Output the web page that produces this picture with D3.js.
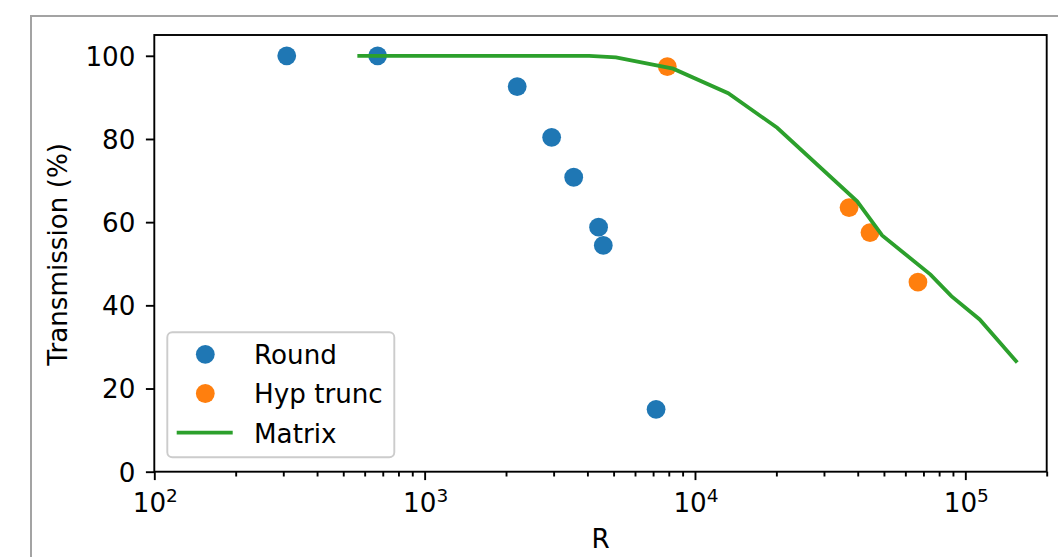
<!DOCTYPE html>
<html>
<head>
<meta charset="utf-8">
<script src="https://cdn.jsdelivr.net/npm/d3@7"></script>
<style>
  html, body { margin: 0; padding: 0; background: #fff; }
  svg { display: block; }
  text { font-family: "DejaVu Sans", sans-serif; fill: #000; }
</style>
</head>
<body>
<svg id="chart" width="1058" height="557"></svg>
<script>
// ---- data ----
const roundR = [309, 670, 2200, 2950, 3560, 4400, 4580, 7180];
const roundT = [100, 100, 92.6, 80.4, 70.8, 58.8, 54.4, 15.0];
const hypR = [7900, 37150, 44400, 66800];
const hypT = [97.4, 63.5, 57.5, 45.6];
const matrixR = [573, 4060, 5100, 8300, 13270, 20140, 39800, 49250, 74350, 88800, 113000, 154000];
const matrixT = [100, 100, 99.6, 96.9, 91.0, 82.7, 65.0, 56.8, 47.4, 42.2, 36.6, 26.6];
const yTicks = [0, 20, 40, 60, 80, 100];
const xMajorExp = [2, 3, 4, 5];
const legendLabels = ["Round", "Hyp trunc", "Matrix"];
const colors = ["#1f77b4", "#ff7f0e", "#2ca02c"];

// ---- layout ----
const svg = d3.select("#chart");
const L = 154.3, R = 1046.7, T = 35, B = 471.7;
const fs = 26.2;

const x = d3.scaleLog().domain([100, 200000]).range([L, R]);
const y = d3.scaleLinear().domain([0, 105]).range([B, T]);

// outer figure frame
svg.append("rect").attr("x", 31).attr("y", 16).attr("width", 1100).attr("height", 600)
  .attr("fill", "none").attr("stroke", "#a3a3a3").attr("stroke-width", 2);

// clip
svg.append("clipPath").attr("id", "clip").append("rect")
  .attr("x", L).attr("y", T).attr("width", R - L).attr("height", B - T);

const g = svg.append("g").attr("clip-path", "url(#clip)");

// Round
g.selectAll("circle.round").data(roundR).enter().append("circle")
  .attr("class", "round")
  .attr("cx", (d) => x(d)).attr("cy", (d, i) => y(roundT[i])).attr("r", 9.4)
  .attr("fill", colors[0]);
// Hyp trunc
g.selectAll("circle.hyp").data(hypR).enter().append("circle")
  .attr("class", "hyp")
  .attr("cx", (d) => x(d)).attr("cy", (d, i) => y(hypT[i])).attr("r", 9.4)
  .attr("fill", colors[1]);
// Matrix
const line = d3.line().x((d) => x(d[0])).y((d) => y(d[1]));
g.append("path").datum(matrixR.map((r, i) => [r, matrixT[i]]))
  .attr("d", line).attr("fill", "none").attr("stroke", colors[2])
  .attr("stroke-width", 3.8).attr("stroke-linejoin", "miter").attr("stroke-linecap", "square");

// axes
const xAxisMajor = d3.axisBottom(x).tickValues(xMajorExp.map((e) => Math.pow(10, e)))
  .tickSize(8.4).tickFormat("");
const minor = [];
for (let e = 2; e <= 5; e++) for (let m = 2; m <= 9; m++) {
  const v = m * Math.pow(10, e);
  if (v <= 200000) minor.push(v);
}
const xAxisMinor = d3.axisBottom(x).tickValues(minor).tickSize(4.8).tickFormat("");

const gxMinor = svg.append("g").attr("transform", `translate(0,${B})`).call(xAxisMinor);
const gx = svg.append("g").attr("transform", `translate(0,${B})`).call(xAxisMajor);
[gx, gxMinor].forEach((a) => {
  a.select(".domain").remove();
  a.selectAll("line").attr("stroke", "#000").attr("stroke-width", 1.9);
});

// x tick labels with superscripts
const xl = svg.append("g");
xMajorExp.forEach((e) => {
  const t = xl.append("text").attr("x", x(Math.pow(10, e)) + 1).attr("y", 511.5)
    .attr("text-anchor", "middle").style("font-size", fs + "px");
  t.append("tspan").text("10");
  t.append("tspan").attr("dy", -9.5).style("font-size", "18.5px").text(String(e));
});

const yAxis = d3.axisLeft(y).tickValues(yTicks).tickSize(8.4).tickPadding(10.5).tickFormat(d3.format("d"));
const gy = svg.append("g").attr("transform", `translate(${L},0)`).call(yAxis);
gy.select(".domain").remove();
gy.selectAll("line").attr("stroke", "#000").attr("stroke-width", 1.9);
gy.selectAll("text").style("font-size", fs + "px").style("font-family", "DejaVu Sans")
  .attr("fill", "#000").attr("dy", "0.36em");

// spines
svg.append("rect").attr("x", L).attr("y", T).attr("width", R - L).attr("height", B - T)
  .attr("fill", "none").attr("stroke", "#000").attr("stroke-width", 1.9);

// axis labels
svg.append("text").attr("x", (L + R) / 2).attr("y", 548).attr("text-anchor", "middle")
  .style("font-size", fs + "px").text("R");
svg.append("text").attr("transform", `translate(67,${(T + B) / 2 + 1}) rotate(-90)`)
  .attr("text-anchor", "middle").style("font-size", fs + "px").text("Transmission (%)");

// legend
const lg = svg.append("g");
lg.append("rect").attr("x", 167.3).attr("y", 332.3).attr("width", 227).attr("height", 125)
  .attr("rx", 5).attr("ry", 5).attr("fill", "#fff").attr("fill-opacity", 0.8)
  .attr("stroke", "#cccccc").attr("stroke-width", 1.9);
const rowY = [354.3, 393.5, 432.7];
legendLabels.forEach((lab, i) => {
  if (i < 2) {
    lg.append("circle").attr("cx", 205.3).attr("cy", rowY[i]).attr("r", 9.4).attr("fill", colors[i]);
  } else {
    lg.append("line").attr("x1", 176.7).attr("x2", 232.7).attr("y1", rowY[i]).attr("y2", rowY[i])
      .attr("stroke", colors[i]).attr("stroke-width", 3.8);
  }
  lg.append("text").attr("x", 254).attr("y", rowY[i] + 9.8).style("font-size", fs + "px").text(lab);
});
</script>
</body>
</html>
